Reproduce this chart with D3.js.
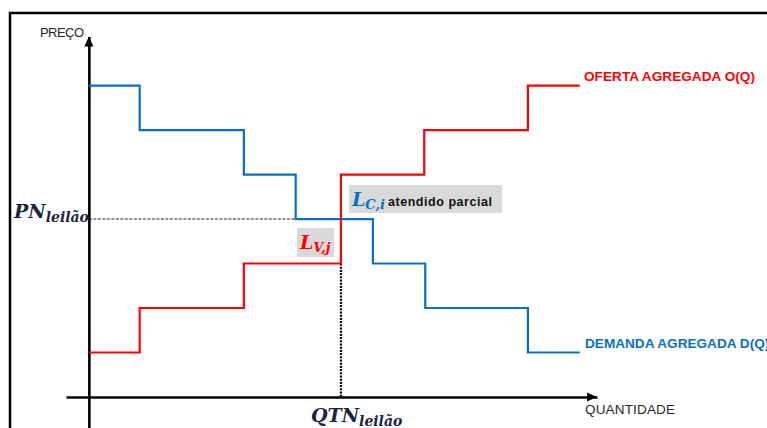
<!DOCTYPE html>
<html>
<head>
<meta charset="utf-8">
<script src="https://cdn.jsdelivr.net/npm/d3@7"></script>
<style>
body { margin: 0; background: #fff; }
svg { display: block; }
.lbl { font-family: 'Liberation Sans', Arial, sans-serif; }
.math { font-family: 'DejaVu Serif', serif; font-weight: bold; font-style: italic; }
</style>
</head>
<body>
<div id="chart"></div>
<script>
// step curves (quantity units, price levels)
var demandQty = [0, 1, 3.05, 4.07, 5.59, 6.62, 8.64, 9.66];
var demandPrice = [7, 6, 5, 4, 3, 2, 1, 1];
var supplyQty = [0, 1, 3.05, 4.96, 6.6, 8.64, 9.66];
var supplyPrice = [1, 2, 3, 5, 6, 7, 7];
var pnLeilao = 4;
var qtnLeilao = 4.96;

var width = 767, height = 428;
var blue = '#0a6fc2', red = '#ff0000';

var svg = d3.select('#chart').append('svg')
    .attr('width', width)
    .attr('height', height);

var x = d3.scaleLinear().domain([-0.45, 10]).range([66, 597]);
var y = d3.scaleLinear().domain([-0.8, 8.1]).range([432.6, 36.6]);

// outer frame
svg.append('rect')
    .attr('x', 10)
    .attr('y', 13)
    .attr('width', 900)
    .attr('height', 600)
    .attr('fill', 'none')
    .attr('stroke', '#000')
    .attr('stroke-width', 2.5);

// axes (no ticks, just the lines)
var xAxis = d3.axisBottom(x).tickValues([]).tickSizeOuter(0);
var yAxis = d3.axisLeft(y).tickValues([]).tickSizeOuter(0);

svg.append('g')
    .attr('class', 'axis')
    .attr('transform', 'translate(0,' + y(0) + ')')
    .call(xAxis);

svg.append('g')
    .attr('class', 'axis')
    .attr('transform', 'translate(' + x(0) + ',0)')
    .call(yAxis);

svg.selectAll('.axis path')
    .attr('stroke', '#000')
    .attr('stroke-width', 2.6);

// arrow heads
var arrow = 'M0,0L-10,-4.5L-10,4.5Z';
svg.append('path')
    .attr('d', arrow)
    .attr('transform', 'translate(' + x(10) + ',' + y(0) + ')');
svg.append('path')
    .attr('d', arrow)
    .attr('transform', 'translate(' + x(0) + ',' + y(8.1) + ') rotate(-90)');

// dotted guides
svg.append('line')
    .attr('x1', x(0))
    .attr('x2', x(demandQty[3]))
    .attr('y1', y(pnLeilao))
    .attr('y2', y(pnLeilao))
    .attr('stroke', '#222')
    .attr('stroke-width', 1.1)
    .attr('stroke-dasharray', '3,1.5');

svg.append('line')
    .attr('x1', x(qtnLeilao))
    .attr('x2', x(qtnLeilao))
    .attr('y1', y(3))
    .attr('y2', y(0))
    .attr('stroke', '#000')
    .attr('stroke-width', 2.2)
    .attr('stroke-dasharray', '2,1.2');

// step lines
var step = d3.line()
    .x(d => x(d[0]))
    .y(d => y(d[1]))
    .curve(d3.curveStepAfter);

svg.append('path')
    .datum(demandQty.map((q, i) => [q, demandPrice[i]]))
    .attr('d', step)
    .attr('fill', 'none')
    .attr('stroke', blue)
    .attr('stroke-width', 2.2);

svg.append('path')
    .datum(supplyQty.map((q, i) => [q, supplyPrice[i]]))
    .attr('d', step)
    .attr('fill', 'none')
    .attr('stroke', red)
    .attr('stroke-width', 2.2);

// axis titles
svg.append('text')
    .attr('class', 'lbl')
    .attr('x', 40)
    .attr('y', 37)
    .attr('fill', '#262626')
    .attr('textLength', 44)
    .style('font-size', '13px')
    .text('PREÇO');

svg.append('text')
    .attr('class', 'lbl')
    .attr('x', 585)
    .attr('y', 414)
    .attr('fill', '#262626')
    .attr('textLength', 90)
    .style('font-size', '13.5px')
    .text('QUANTIDADE');

// curve names
svg.append('text')
    .attr('class', 'lbl')
    .attr('x', 584)
    .attr('y', 81)
    .attr('fill', red)
    .attr('textLength', 171)
    .style('font-size', '13.6px')
    .style('font-weight', 'bold')
    .text('OFERTA AGREGADA O(Q)');

svg.append('text')
    .attr('class', 'lbl')
    .attr('x', 585)
    .attr('y', 348)
    .attr('fill', blue)
    .style('font-size', '13.6px')
    .style('font-weight', 'bold')
    .text('DEMANDA AGREGADA D(Q)');

// PN and QTN
var pn = svg.append('text')
    .attr('class', 'math')
    .attr('x', 14)
    .attr('y', 218)
    .attr('fill', '#1b2440');
pn.append('tspan').style('font-size', '19px').text('PN');
pn.append('tspan').attr('dy', 4).style('font-size', '14px').text('leilão');

var qtn = svg.append('text')
    .attr('class', 'math')
    .attr('x', 311)
    .attr('y', 422)
    .attr('fill', '#1b2440');
qtn.append('tspan').style('font-size', '19px').text('QTN');
qtn.append('tspan').attr('dy', 4).style('font-size', '14px').text('leilão');

// L_C,i box
svg.append('rect')
    .attr('x', 349)
    .attr('y', 185)
    .attr('width', 153)
    .attr('height', 28)
    .attr('fill', '#d9d9d9');

var lc = svg.append('text')
    .attr('x', 352)
    .attr('y', 206)
    .attr('fill', blue);
lc.append('tspan').attr('class', 'math').style('font-size', '19px').text('L');
lc.append('tspan').attr('class', 'math').attr('dy', 3).style('font-size', '13px').text('C,i');
lc.append('tspan').attr('class', 'lbl').attr('dy', -3).attr('dx', 3)
    .attr('fill', '#111')
    .attr('textLength', 104)
    .style('font-size', '12.5px')
    .style('font-weight', 'bold')
    .text('atendido parcial');

// L_V,j box
svg.append('rect')
    .attr('x', 297)
    .attr('y', 228)
    .attr('width', 37)
    .attr('height', 29)
    .attr('fill', '#d9d9d9');

var lv = svg.append('text')
    .attr('x', 300)
    .attr('y', 249)
    .attr('fill', red);
lv.append('tspan').attr('class', 'math').style('font-size', '19px').text('L');
lv.append('tspan').attr('class', 'math').attr('dy', 3).style('font-size', '13px').text('V,j');
</script>
</body>
</html>
